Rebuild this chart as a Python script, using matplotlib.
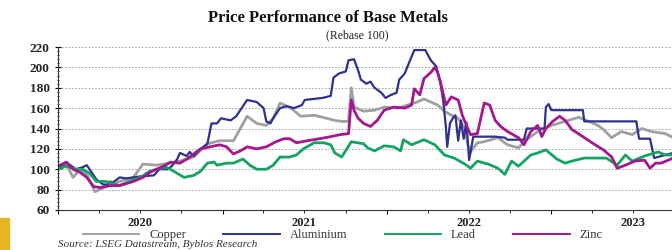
import numpy as np
import pandas as pd
import matplotlib
matplotlib.use("Agg")
import matplotlib.pyplot as plt
import matplotlib.dates as mdates
from matplotlib.patches import Rectangle
from matplotlib.ticker import MultipleLocator

# months after 1 Jan 2020
cu_m = [0, 0.6, 1.1, 1.6, 2.1, 2.7, 3.5, 4.5, 5.5, 6.2, 7.2, 8.2, 8.9, 9.9, 10.9, 11.8,
        12.8, 13.3, 13.8, 14.5, 15.2, 15.7, 16.2, 17.0, 17.7, 18.7, 19.6, 20.2, 20.7,
        21.2, 21.4, 21.6, 22.3, 23.1, 23.8, 24.8, 25.5, 26.2, 26.7, 27.2, 27.7, 28.2,
        28.7, 29.2, 29.7, 29.9, 30.1, 30.6, 31.1, 32.1, 32.8, 33.6, 34.0, 35.0, 36.0,
        37.0, 38.0, 38.9, 39.4, 39.8, 40.4, 41.1, 41.9, 42.6, 43.3, 44.3, 44.9]
cu = [100, 105, 92, 100, 95, 78, 83, 88, 92, 105, 104, 106, 108, 112, 125, 128,
      128, 140, 152, 145, 143, 150, 165, 160, 152, 153, 150, 148, 147,
      147, 180, 161, 157, 158, 161, 160, 163, 166, 169, 166, 163, 157,
      153, 150, 140, 124, 117, 126, 127, 131, 124, 121, 127, 137, 143,
      147, 151, 146, 143, 139, 131, 137, 134, 140, 137, 135, 131]

al_m = [0, 0.6, 1.3, 1.8, 2.1, 2.3, 2.8, 3.3, 3.6, 3.8, 4.0, 4.5, 5.0, 6.0, 7.0, 7.4,
        8.0, 8.3, 8.7, 8.9, 9.4, 9.6, 9.9, 10.4, 10.9, 11.2, 11.6, 11.9, 12.6, 13.0,
        13.4, 13.8, 14.5, 15.0, 15.2, 15.5, 15.7, 16.2, 16.7, 17.2, 17.8, 18.0, 19.3,
        19.9, 20.1, 20.5, 21.0, 21.2, 21.6, 21.9, 22.1, 22.5, 22.8, 23.1, 23.6, 23.9,
        24.3, 24.7, 24.9, 25.3, 25.6, 26.0, 26.8, 27.2, 27.6, 27.9, 28.1, 28.3, 28.4,
        28.6, 28.8, 29.0, 29.2, 29.4, 29.6, 29.8, 30.0, 30.3, 31.9, 32.6, 32.8, 34.0,
        34.2, 35.5, 35.6, 35.8, 36.0, 38.3, 38.4, 42.2, 42.4, 43.2, 43.5, 44.3, 44.9]
al = [100, 107, 100, 102, 104, 100, 90, 85, 85, 88, 87, 92, 91, 93, 94, 100,
      100, 103, 110, 116, 113, 117, 113, 120, 125, 145, 145, 150, 148, 152,
      160, 168, 166, 160, 147, 145, 150, 160, 162, 160, 163, 168, 170,
      172, 190, 194, 196, 207, 208, 197, 188, 184, 186, 180, 175, 170,
      173, 175, 188, 194, 204, 217, 217, 207, 201, 185, 168, 142, 122,
      145, 150, 153, 128, 148, 130, 146, 109, 132, 132, 131, 129, 129,
      140, 140, 161, 164, 158, 158, 147, 147, 130, 130, 111, 114, 116]

pb_m = [0, 0.6, 1.3, 1.8, 2.3, 2.8, 3.5, 4.0, 4.5, 5.2, 6.0, 6.7, 7.2, 7.9, 8.2, 8.7,
        9.2, 9.9, 10.4, 10.9, 11.4, 11.6, 12.3, 12.8, 13.5, 14.0, 14.5, 15.2, 15.7,
        16.2, 16.9, 17.4, 17.9, 18.7, 19.4, 19.9, 20.2, 20.7, 21.4, 22.3, 22.6, 23.1,
        23.8, 24.5, 25.0, 25.2, 25.8, 26.7, 27.5, 28.2, 28.9, 29.7, 30.1, 30.6, 31.4,
        32.1, 32.6, 33.1, 33.6, 34.5, 35.0, 35.6, 36.4, 37.0, 37.5, 38.4, 39.4, 40.0,
        40.8, 41.4, 41.9, 42.8, 43.8, 44.3, 44.9]
pb = [100, 103, 100, 100, 96, 88, 88, 86, 84, 88, 92, 98, 100, 102, 100, 96,
      92, 94, 98, 106, 107, 104, 106, 106, 110, 104, 100, 100, 104,
      112, 112, 114, 120, 126, 126, 124, 116, 112, 127, 125, 121, 118,
      123, 122, 118, 129, 124, 129, 124, 114, 111, 105, 101, 108, 105,
      101, 95, 108, 103, 114, 116, 119, 110, 106, 108, 111, 111, 111,
      104, 114, 108, 113, 117, 114, 114]

zn_m = [0, 0.6, 1.1, 1.6, 2.1, 2.6, 3.1, 3.8, 4.5, 5.0, 5.5, 6.2, 6.7, 7.2, 7.7, 8.2,
        8.9, 9.4, 9.9, 10.4, 11.1, 11.8, 12.3, 12.8, 13.3, 13.8, 14.5, 15.2, 15.9,
        16.5, 16.9, 17.4, 18.2, 19.1, 19.9, 20.6, 21.2, 21.4, 21.6, 21.9, 22.3, 22.8,
        23.3, 23.8, 24.5, 25.3, 25.8, 26.0, 26.4, 26.7, 27.2, 27.5, 27.7, 27.9, 28.3,
        28.7, 29.2, 29.5, 29.9, 30.1, 30.6, 31.1, 31.5, 31.9, 32.3, 32.8, 33.6, 34.0,
        34.5, 35.0, 35.3, 35.6, 36.1, 36.6, 37.0, 37.5, 38.3, 38.4, 39.2, 39.8, 40.4,
        40.8, 41.4, 42.1, 42.8, 43.2, 43.6, 44.0, 44.9]
zn = [103, 107, 100, 97, 92, 83, 82, 84, 84, 86, 88, 92, 97, 100, 103, 107,
      106, 110, 115, 120, 122, 124, 122, 115, 118, 122, 120, 122, 127,
      130, 130, 126, 128, 130, 132, 134, 135, 168, 158, 150, 145, 142,
      148, 158, 161, 160, 163, 179, 173, 189, 195, 200, 195, 186, 163,
      171, 168, 153, 140, 134, 135, 165, 163, 148, 142, 137, 131, 124,
      137, 143, 132, 140, 147, 152, 148, 139, 132, 131, 124, 119, 112,
      101, 104, 108, 109, 101, 106, 106, 111]

years = ["2020", "2021", "2022", "2023"]

start = pd.Timestamp("2020-01-01")


def to_dates(months):
    return [start + pd.Timedelta(days=m * 30.44) for m in months]


fig = plt.figure(figsize=(6.72, 2.5), dpi=100)
ax = fig.add_axes([58 / 672, 1 - 210 / 250, 1 - 58 / 672 + 0.002, 163 / 250])

ax.plot(to_dates(cu_m), cu, color="#a0a0a0", lw=2.0, label="Copper")
ax.plot(to_dates(al_m), al, color="#2e3192", lw=1.6, label="Aluminium")
ax.plot(to_dates(pb_m), pb, color="#13a463", lw=2.0, label="Lead")
ax.plot(to_dates(zn_m), zn, color="#a3188c", lw=2.0, label="Zinc")

ax.set_ylim(60, 220)
ax.set_xlim(start, start + pd.Timedelta(days=44.9 * 30.44))
ax.yaxis.set_major_locator(MultipleLocator(20))
ax.yaxis.set_minor_locator(MultipleLocator(4))
ax.grid(axis="y", color="#999999", ls=(0, (2, 2)), lw=0.6)
for s in ["top", "right"]:
    ax.spines[s].set_visible(False)
ax.spines["left"].set_color("#333333")
ax.spines["bottom"].set_color("#333333")

ax.xaxis.set_major_locator(mdates.YearLocator())
ax.xaxis.set_minor_locator(mdates.MonthLocator(bymonth=[4, 7, 10]))
ax.set_xticklabels([])
ax.tick_params(axis="x", which="major", length=3, direction="out")
ax.tick_params(axis="x", which="minor", length=2, direction="out")
ax.tick_params(axis="y", which="major", length=4, direction="inout", pad=4)
ax.tick_params(axis="y", which="minor", length=2, direction="inout")
for lab in ax.get_yticklabels():
    lab.set_fontfamily("Liberation Serif")
    lab.set_fontweight("bold")
    lab.set_fontsize(9.5)
    lab.set_color("#222222")

for i, y in enumerate(years):
    mid = pd.Timestamp(f"{y}-07-01")
    ax.text(mid, -0.04, y, transform=ax.get_xaxis_transform(), ha="center", va="top",
            fontfamily="Liberation Serif", fontweight="bold", fontsize=9, color="#222222")

fig.text(0.488, 0.93, "Price Performance of Base Metals", ha="center", va="center",
         fontfamily="Liberation Serif", fontweight="bold", fontsize=12, color="#111111")
fig.text(0.531, 0.86, "(Rebase 100)", ha="center", va="center",
         fontfamily="Liberation Serif", fontsize=8.5, color="#222222")

leg = fig.legend(loc="center", bbox_to_anchor=(0.51, 1 - 235 / 250), ncol=4, frameon=False,
                 prop={"family": "Liberation Serif", "size": 9}, handlelength=4.5,
                 columnspacing=3.0, handletextpad=0.8, borderpad=0, borderaxespad=0)
for t in leg.get_texts():
    t.set_color("#333333")
for h in leg.get_lines():
    h.set_linewidth(1.4)

fig.text(58 / 672, 0.004, "Source: LSEG Datastream, Byblos Research", ha="left", va="bottom",
         fontfamily="Liberation Serif", fontstyle="italic", fontsize=8, color="#333333")

fig.patches.append(Rectangle((0, 0.0), 9 / 672, 32 / 250, transform=fig.transFigure,
                             color="#e8b422", zorder=0))

fig.savefig("out.png", dpi=100)
